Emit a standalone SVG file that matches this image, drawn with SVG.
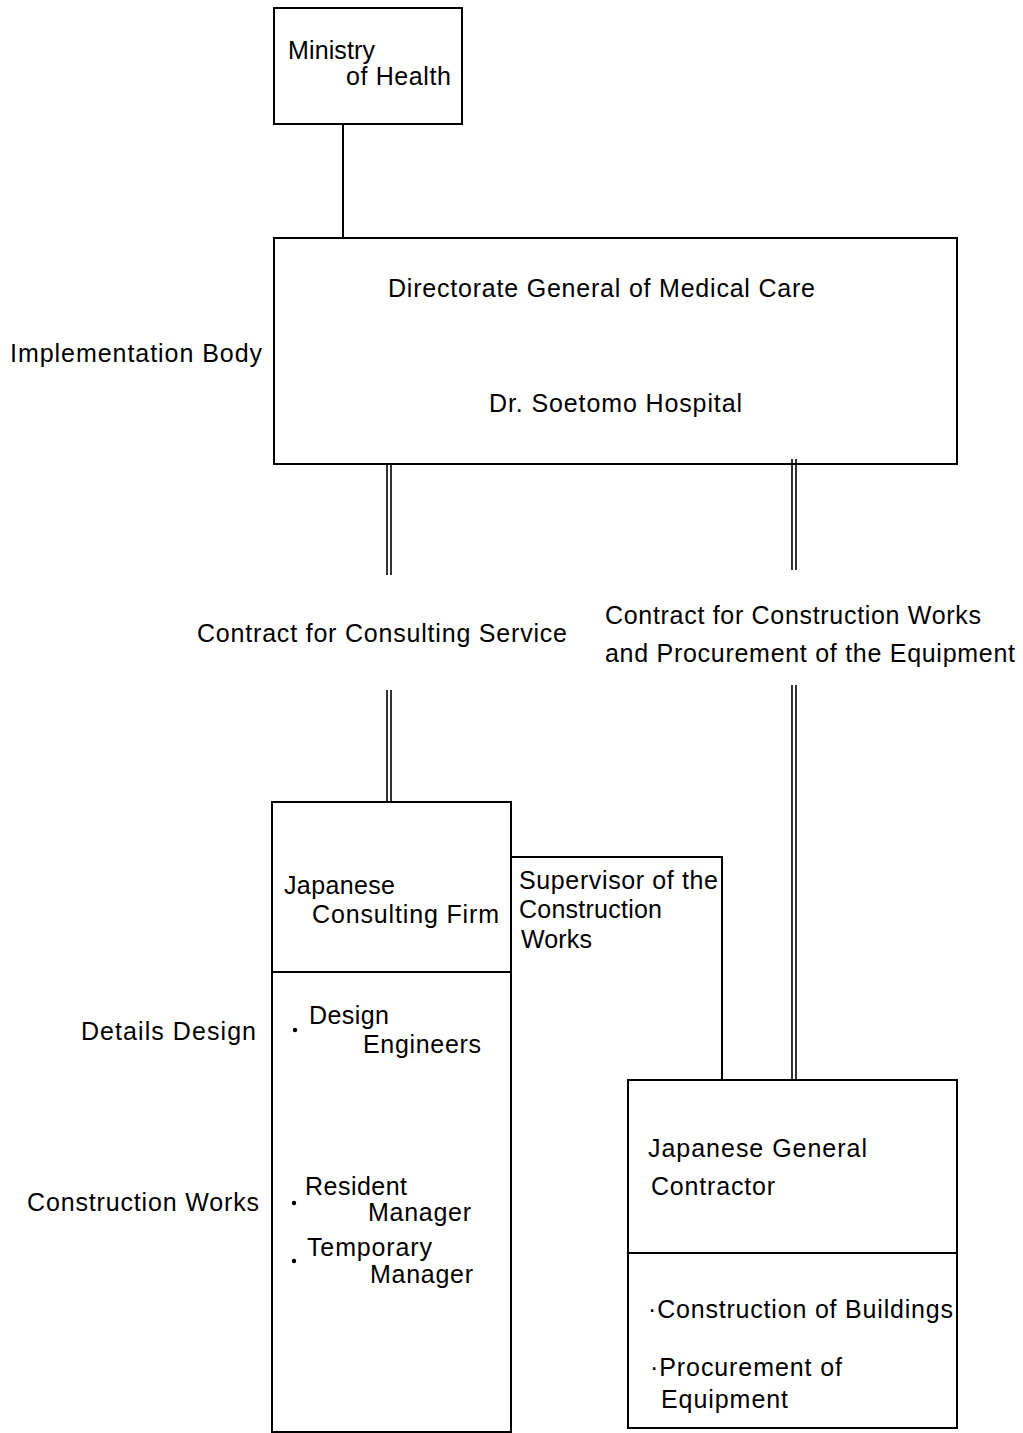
<svg xmlns="http://www.w3.org/2000/svg" width="1023" height="1433" viewBox="0 0 1023 1433">
<style>
.b{fill:none;stroke:#000;stroke-width:2}
.l{fill:none;stroke:#000;stroke-width:2}
.d{fill:none;stroke:#000;stroke-width:1.6}
text{font-family:"Liberation Sans",Arial,sans-serif;font-size:25px;fill:#000}
.dot{fill:#000}
</style>
<rect width="1023" height="1433" fill="#fff"/>
<g id="connectors">
<line class="l" x1="343" y1="124" x2="343" y2="238"/>
<line class="d" x1="387" y1="464" x2="387" y2="575"/>
<line class="d" x1="391" y1="464" x2="391" y2="575"/>
<line class="d" x1="387" y1="690" x2="387" y2="802"/>
<line class="d" x1="391" y1="690" x2="391" y2="802"/>
<line class="d" x1="792" y1="459" x2="792" y2="570"/>
<line class="d" x1="796" y1="459" x2="796" y2="570"/>
<line class="d" x1="792" y1="685" x2="792" y2="1080"/>
<line class="d" x1="796" y1="685" x2="796" y2="1080"/>
<polyline class="l" points="511,857 722,857 722,1080"/>
</g>
<g id="label-contract-consulting"><text x="197" y="642" textLength="370" lengthAdjust="spacing">Contract for Consulting Service</text></g>
<g id="label-contract-construction">
<text x="605" y="624" textLength="376" lengthAdjust="spacing">Contract for Construction Works</text>
<text x="605" y="662" textLength="410" lengthAdjust="spacing">and Procurement of the Equipment</text>
</g>
<g id="label-supervisor">
<text x="519" y="889" textLength="199" lengthAdjust="spacing">Supervisor of the</text>
<text x="519" y="918" textLength="143" lengthAdjust="spacing">Construction</text>
<text x="521" y="948" textLength="71" lengthAdjust="spacing">Works</text>
</g>
<g id="ministry">
<rect class="b" x="274" y="8" width="188" height="116"/>
<text x="288" y="59" textLength="87" lengthAdjust="spacing">Ministry</text>
<text x="346" y="85" textLength="105" lengthAdjust="spacing">of Health</text>
</g>
<g id="implementation-body">
<rect class="b" x="274" y="238" width="683" height="226"/>
<text x="388" y="297" textLength="427" lengthAdjust="spacing">Directorate General of Medical Care</text>
<text x="489" y="412" textLength="253" lengthAdjust="spacing">Dr. Soetomo Hospital</text>
</g>
<g id="label-implementation"><text x="10" y="362" textLength="252" lengthAdjust="spacing">Implementation Body</text></g>
<g id="consulting-firm">
<rect class="b" x="272" y="802" width="239" height="630"/>
<line class="l" x1="272" y1="972" x2="511" y2="972"/>
<text x="284" y="894" textLength="111" lengthAdjust="spacing">Japanese</text>
<text x="312" y="923" textLength="187" lengthAdjust="spacing">Consulting Firm</text>
<circle class="dot" cx="295" cy="1030" r="2.2"/>
<text x="309" y="1024" textLength="80" lengthAdjust="spacing">Design</text>
<text x="363" y="1053" textLength="118" lengthAdjust="spacing">Engineers</text>
<circle class="dot" cx="294" cy="1203" r="2.2"/>
<text x="305" y="1195" textLength="102" lengthAdjust="spacing">Resident</text>
<text x="368" y="1221" textLength="103" lengthAdjust="spacing">Manager</text>
<circle class="dot" cx="294" cy="1261" r="2.2"/>
<text x="307" y="1256" textLength="125" lengthAdjust="spacing">Temporary</text>
<text x="370" y="1283" textLength="103" lengthAdjust="spacing">Manager</text>
</g>
<g id="label-details-design"><text x="81" y="1040" textLength="175" lengthAdjust="spacing">Details Design</text></g>
<g id="label-construction-works"><text x="27" y="1211" textLength="232" lengthAdjust="spacing">Construction Works</text></g>
<g id="general-contractor">
<rect class="b" x="628" y="1080" width="329" height="348"/>
<line class="l" x1="628" y1="1253" x2="957" y2="1253"/>
<text x="648" y="1157" textLength="219" lengthAdjust="spacing">Japanese General</text>
<text x="651" y="1195" textLength="124" lengthAdjust="spacing">Contractor</text>
<text x="648" y="1318" textLength="305" lengthAdjust="spacing">·Construction of Buildings</text>
<text x="650" y="1376" textLength="192" lengthAdjust="spacing">·Procurement of</text>
<text x="661" y="1408" textLength="127" lengthAdjust="spacing">Equipment</text>
</g>
</svg>
